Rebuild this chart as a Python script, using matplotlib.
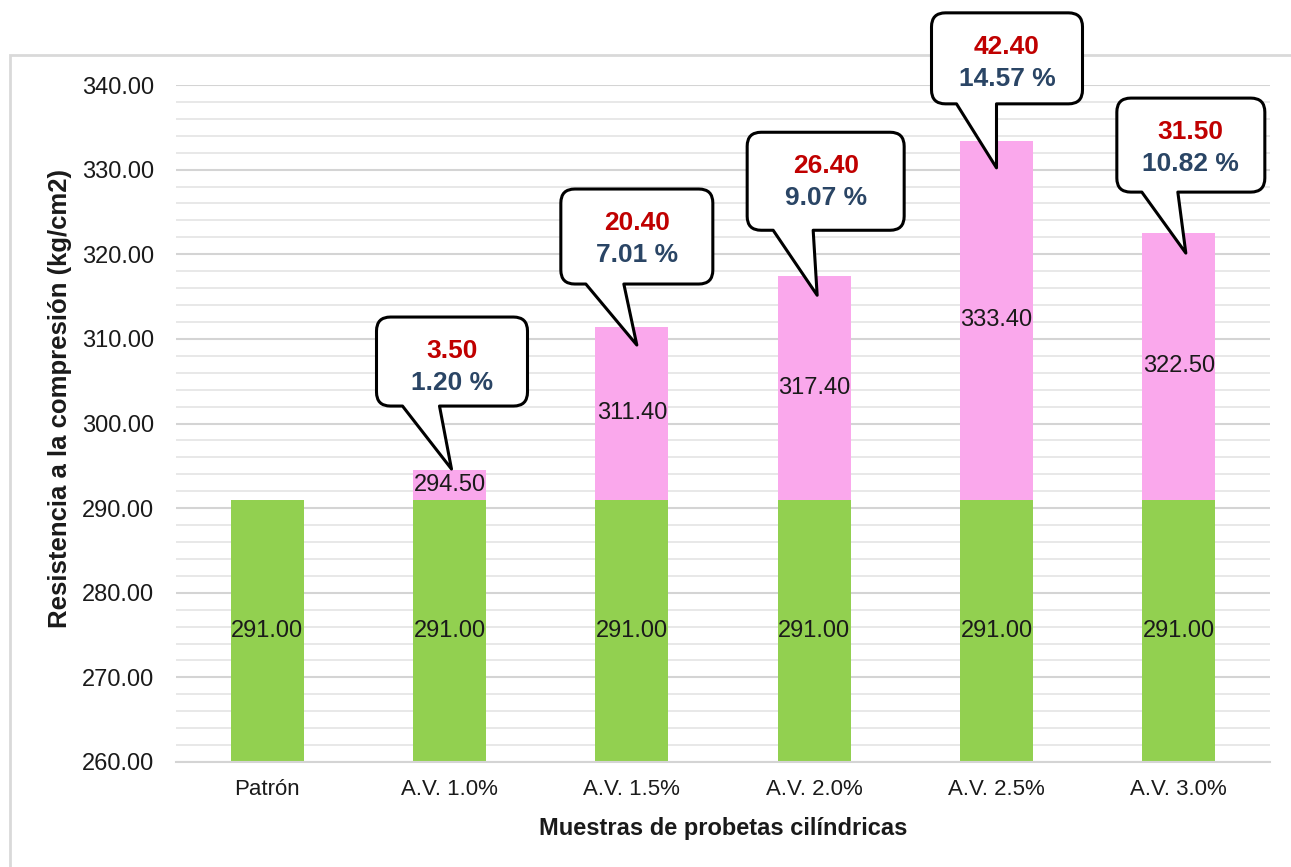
import numpy as np
import matplotlib
matplotlib.use('Agg')
from matplotlib import pyplot as plt
from matplotlib.path import Path
from matplotlib.patches import PathPatch, Rectangle
from matplotlib.transforms import Affine2D

plt.rcParams['font.family'] = ['Liberation Sans', 'DejaVu Sans']

# datos
categorias = ['Patrón', 'A.V. 1.0%', 'A.V. 1.5%', 'A.V. 2.0%', 'A.V. 2.5%', 'A.V. 3.0%']
patron = [291.00, 291.00, 291.00, 291.00, 291.00, 291.00]
total = [291.00, 294.50, 311.40, 317.40, 333.40, 322.50]
incremento = [0.00, 3.50, 20.40, 26.40, 42.40, 31.50]
porcentaje = [None, 1.20, 7.01, 9.07, 14.57, 10.82]

# callouts: punta (dx, dy) desde el tope de la barra, caja (L, R, T, B) y base (b1, b2) en pixeles desde la punta
callouts = {
    1: ((2, -1), (-75, 76, -152, -63), (-49, -12)),
    2: ((5, 18), (-76, 76, -156, -61), (-51, -13)),
    3: ((3, 19), (-70, 87, -163, -65), (-44, -4)),
    4: ((0, 27), (-65, 86, -155, -64), (-40, 0)),
    5: ((7, 20), (-69, 79, -155, -61), (-44, -8)),
}

W, H = 1291, 867
fig = plt.figure(figsize=(W / 100, H / 100), dpi=100)
ax = fig.add_axes([176 / W, 1 - 762 / H, 1094 / W, 677 / H])

x = np.arange(len(categorias))
ymin, ymax = 260, 340
ax.bar(x, patron, width=0.4, color='#92D050', zorder=2)
ax.bar(x, incremento, width=0.4, bottom=patron, color='#FAA8EC', zorder=2)
ax.set_xlim(-0.5, len(categorias) - 0.5)
ax.set_ylim(ymin, ymax)

# etiquetas dentro de las barras
for i in range(len(categorias)):
    ax.text(x[i], (ymin + patron[i]) / 2, '%.2f' % patron[i], ha='center', va='center',
            fontsize=17, color='#1a1a1a', zorder=3)
    if incremento[i] > 0:
        ax.text(x[i], (patron[i] + total[i]) / 2, '%.2f' % total[i], ha='center', va='center',
                fontsize=17, color='#1a1a1a', zorder=3)

ax.set_yticks(np.arange(ymin, ymax + 1, 10))
ax.set_yticks(np.arange(ymin, ymax + 1, 2), minor=True)
ax.set_yticklabels(['%.2f' % v for v in np.arange(ymin, ymax + 1, 10)])
ax.set_xticks(x)
ax.set_xticklabels(categorias)
ax.grid(axis='y', which='major', color='#d4d4d4', lw=1.5, zorder=0)
ax.grid(axis='y', which='minor', color='#e4e4e4', lw=1.2, zorder=0)
ax.tick_params(axis='both', which='both', length=0, colors='#1a1a1a')
ax.tick_params(axis='y', pad=16, labelsize=17)
ax.tick_params(axis='x', pad=12, labelsize=16)
for s in ['top', 'right', 'left']:
    ax.spines[s].set_visible(False)
ax.spines['bottom'].set_color('#d4d4d4')
ax.spines['bottom'].set_linewidth(1.5)

fig.text(723 / W, 1 - 829 / H, 'Muestras de probetas cilíndricas', ha='center', va='center',
         fontsize=17, fontweight='bold', color='#1a1a1a')
fig.text(60 / W, 1 - 399 / H, 'Resistencia a la compresión (kg/cm2)', ha='center', va='center',
         rotation=90, fontsize=18.5, fontweight='bold', color='#1a1a1a')

# marco del grafico
fig.add_artist(Rectangle((10 / W, -0.1), 1.2, 1 - 55 / H + 0.1, transform=fig.transFigure,
                         fill=False, edgecolor='#d9d9d9', lw=2, zorder=0))


def bubble(tip_disp, box, base):
    L, R, T, B = box
    b1, b2 = base
    r = 14
    verts = [(b2, B), (R - r, B), (R, B), (R, B - r), (R, T + r), (R, T), (R - r, T),
             (L + r, T), (L, T), (L, T + r), (L, B - r), (L, B), (L + r, B),
             (b1, B), (0, 0), (b2, B)]
    codes = [Path.MOVETO, Path.LINETO, Path.CURVE3, Path.CURVE3, Path.LINETO, Path.CURVE3, Path.CURVE3,
             Path.LINETO, Path.CURVE3, Path.CURVE3, Path.LINETO, Path.CURVE3, Path.CURVE3,
             Path.LINETO, Path.LINETO, Path.CLOSEPOLY]
    tr = Affine2D().scale(1, -1).translate(tip_disp[0], tip_disp[1])
    p = PathPatch(Path(verts, codes), transform=tr, facecolor='white', edgecolor='black',
                  lw=2.2, joinstyle='round', zorder=5)
    fig.add_artist(p)


for i, (tip_off, box, base) in callouts.items():
    px, py = ax.transData.transform((x[i], total[i]))
    tx, ty = px + tip_off[0], py - tip_off[1]
    bubble((tx, ty), box, base)
    cx = tx + (box[0] + box[1]) / 2
    top = ty - box[2]
    fig.text(cx / W, (top - 34) / H, '%.2f' % incremento[i], ha='center', va='center',
             fontsize=19, fontweight='bold', color='#C00000', zorder=6)
    fig.text(cx / W, (top - 66) / H, '%.2f %%' % porcentaje[i], ha='center', va='center',
             fontsize=19, fontweight='bold', color='#2A4565', zorder=6)

fig.savefig('out.png', dpi=100)
